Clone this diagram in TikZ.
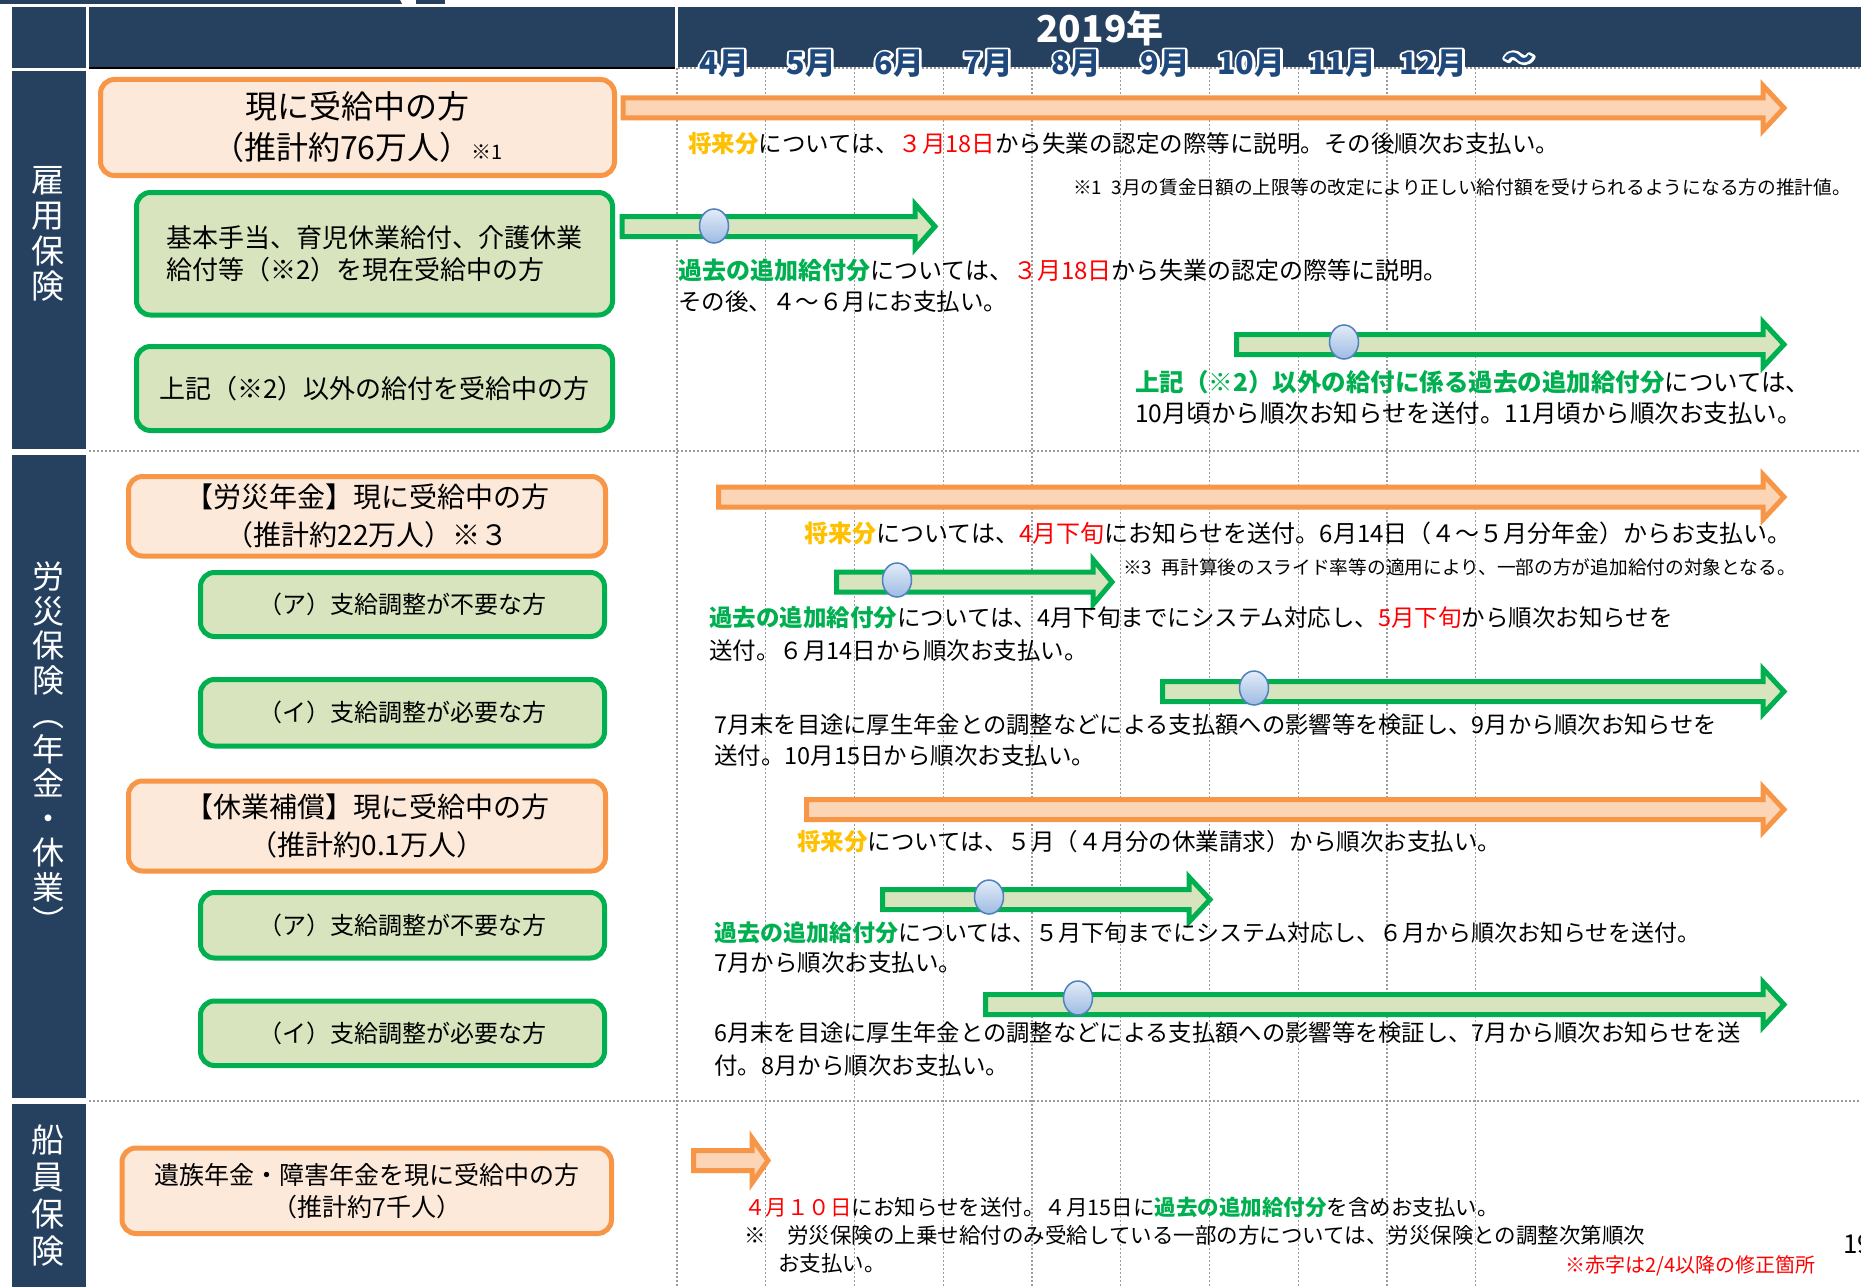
\documentclass[tikz,border=0pt]{standalone}
\usepackage{fontspec}
\setmainfont{Noto Sans CJK JP}
\usetikzlibrary{shapes.geometric}
\definecolor{navy}{HTML}{264060}
\definecolor{orline}{HTML}{F79646}
\definecolor{orfill}{HTML}{FDE9D9}
\definecolor{orarrow}{HTML}{FBD5B6}
\definecolor{grline}{HTML}{00B050}
\definecolor{grfill}{HTML}{D7E4BD}
\definecolor{goldtxt}{HTML}{FFC000}
\definecolor{redtxt}{HTML}{FF0000}
\definecolor{monthblue}{HTML}{1F497D}
\definecolor{gridgray}{HTML}{9A9A9A}
\definecolor{circline}{HTML}{4F81BD}
\definecolor{circtop}{HTML}{E3ECF8}
\definecolor{circbot}{HTML}{9DBBE3}
\newcommand{\fsz}[1]{\fontsize{#1pt}{#1pt}\selectfont}
\newcommand{\txgd}[1]{{\bfseries\color{goldtxt}#1}}
\newcommand{\txgr}[1]{{\bfseries\color{grline}#1}}
\newcommand{\txrd}[1]{{\color{redtxt}#1}}
\newcommand{\halo}[1]{\special{pdf:literal direct 1 Tr 1 1 1 RG 5 w 1 j}\rlap{#1}\special{pdf:literal direct 0 Tr}#1}
\newcommand{\blkarrow}[5]{%
  \draw[#1] (#2,#5-10) -- (#3,#5-10) -- (#3,#5-22.5) -- (#4,#5) -- (#3,#5+22.5) -- (#3,#5+10) -- (#2,#5+10) -- cycle;}
\begin{document}
\begin{tikzpicture}[x=1pt,y=-1pt,
  navycell/.style={fill=navy},
  gridline/.style={draw=gridgray,line width=1.3,dash pattern=on 2pt off 2pt},
  obox/.style={draw=orline,fill=orfill,line width=5,rounded corners=14,inner sep=0,align=center},
  gbox/.style={draw=grline,fill=grfill,line width=5,rounded corners=14,inner sep=0,align=center},
  oarrow/.style={draw=orline,fill=orarrow,line width=5,line join=miter},
  garrow/.style={draw=grline,fill=grfill,line width=5,line join=miter},
  circ/.style={ellipse,minimum width=29,minimum height=34,inner sep=0,draw=circline,line width=1.5,top color=circtop,bottom color=circbot},
  month/.style={font=\fsz{30.5}\bfseries,text=monthblue,inner sep=0},
  vtext/.style={text=white,align=center,inner sep=0},
  tl/.style={anchor=west,inner sep=0,font=\fsz{23.5}},
  note/.style={anchor=west,inner sep=0,font=\fsz{19}}]
\useasboundingbox (0,0) rectangle (1861,1287);
\clip (0,0) rectangle (1861,1287);
\fill[white] (0,0) rectangle (1861,1287);
% top tab
\fill[navy] (0,0) -- (400,0) -- (402,4) -- (0,4) -- cycle;
\fill[navy] (416,0) rectangle (445,4);
% header
\fill[navycell] (12,7) rectangle (86,68);
\fill[navycell] (89,7) rectangle (675,67);
\draw[black,line width=2] (89,68) -- (675,68);
\fill[navycell] (678,7) rectangle (1861,67);
\draw[gridline] (678,68) -- (1861,68);
% grid
\foreach \k in {0,...,9}{\draw[gridline] (677+88.75*\k,68) -- (677+88.75*\k,1287);}
\draw[gridline] (89,451) -- (1861,451);
\draw[gridline] (89,1101) -- (1861,1101);
% left column
\fill[navycell] (12,71) rectangle (86,449);
\fill[navycell] (12,455) rectangle (86,1098);
\fill[navycell] (12,1104) rectangle (86,1287);
\node[vtext,font=\fontsize{33pt}{35.5pt}\selectfont] (s1) at (48,234) {雇\\用\\保\\険};
\node[vtext,font=\fontsize{32pt}{34.5pt}\selectfont] (s2) at (48,748) {労\\災\\保\\険\\︵\\年\\金\\・\\休\\業\\︶};
\node[vtext,font=\fontsize{33pt}{37pt}\selectfont] (s3) at (48,1196) {船\\員\\保\\険};
% header texts
\node[text=white,font=\fsz{37}\bfseries,inner sep=0] (yr) at (1100,28) {2019年};
\node[month] (m4) at (724,64) {\halo{4月}};
\node[month] (m5) at (811,64) {\halo{5月}};
\node[month] (m6) at (899,64) {\halo{6月}};
\node[month] (m7) at (988,64) {\halo{7月}};
\node[month] (m8) at (1076,64) {\halo{8月}};
\node[month] (m9) at (1165,64) {\halo{9月}};
\node[month] (m10) at (1251,64) {\halo{10月}};
\node[month] (m11) at (1342,64) {\halo{11月}};
\node[month] (m12) at (1433,64) {\halo{12月}};
\node[month] (mt) at (1519,61) {\halo{～}};
% boxes
\node[obox,minimum width=514,minimum height=96,font=\fontsize{32pt}{41pt}\selectfont] (b1) at (357.5,127.5) {現に受給中の方\\（推計約76万人）{\fsz{20}※1}};
\node[gbox,minimum width=476,minimum height=122.5,align=left,font=\fontsize{26pt}{32pt}\selectfont] (b2) at (374.5,253.75) {基本手当、育児休業給付、介護休業\\給付等（※2）を現在受給中の方};
\node[gbox,minimum width=476,minimum height=84,font=\fsz{26}] (b3) at (374.5,388.5) {上記（※2）以外の給付を受給中の方};
\node[obox,minimum width=477,minimum height=79.5,font=\fontsize{28pt}{38pt}\selectfont] (b4) at (367,516.25) {【労災年金】現に受給中の方\\（推計約22万人）※３};
\node[gbox,minimum width=404,minimum height=64,font=\fsz{24}] (b5) at (402.5,604.5) {（ア）支給調整が不要な方};
\node[gbox,minimum width=404,minimum height=66.5,font=\fsz{24}] (b6) at (402.5,712.75) {（イ）支給調整が必要な方};
\node[obox,minimum width=477,minimum height=90,font=\fontsize{28pt}{38pt}\selectfont] (b7) at (367,826) {【休業補償】現に受給中の方\\（推計約0.1万人）};
\node[gbox,minimum width=404,minimum height=65.5,font=\fsz{24}] (b8) at (402.5,925.25) {（ア）支給調整が不要な方};
\node[gbox,minimum width=404,minimum height=64.5,font=\fsz{24}] (b9) at (402.5,1033.25) {（イ）支給調整が必要な方};
\node[obox,minimum width=489.5,minimum height=85.5,font=\fontsize{25pt}{32pt}\selectfont] (b10) at (366.75,1190.75) {遺族年金・障害年金を現に受給中の方\\（推計約7千人）};
% arrows
\blkarrow{oarrow}{623}{1763}{1784}{108}
\blkarrow{garrow}{622}{915}{935}{226.5}
\blkarrow{garrow}{1236.5}{1763}{1784}{344.5}
\blkarrow{oarrow}{718.5}{1763}{1784}{497}
\blkarrow{garrow}{836.5}{1093}{1112}{582}
\blkarrow{garrow}{1162.5}{1763}{1784}{691.5}
\blkarrow{oarrow}{806.5}{1763}{1784}{809.5}
\blkarrow{garrow}{882.5}{1189}{1210}{899.5}
\blkarrow{garrow}{985.5}{1763}{1784}{1004.5}
\blkarrow{oarrow}{693.5}{752}{768}{1160.5}
% circles
\node[circ] (c2) at (714,226) {};
\node[circ] (c3) at (1344,342) {};
\node[circ] (c5) at (897,580) {};
\node[circ] (c6) at (1254,688) {};
\node[circ] (c8) at (989,897) {};
\node[circ] (c9) at (1078,998) {};
% timeline texts
\node[tl] (t1) at (688,144) {\txgd{将来分}については、\txrd{３月18日}から失業の認定の際等に説明。その後順次お支払い。};
\node[note,font=\fsz{18.7}] (t2) at (1073,187) {※1\hspace{0.5em}3月の賃金日額の上限等の改定により正しい給付額を受けられるようになる方の推計値。};
\node[tl,font=\fsz{24}] (t3a) at (678,270) {\txgr{過去の追加給付分}については、\txrd{３月18日}から失業の認定の際等に説明。};
\node[tl] (t3b) at (678,302) {その後、４～６月にお支払い。};
\node[tl,font=\fsz{24.5}] (t4a) at (1135,382) {\txgr{上記（※2）以外の給付に係る過去の追加給付分}については、};
\node[tl,font=\fsz{24.5}] (t4b) at (1135,413) {10月頃から順次お知らせを送付。11月頃から順次お支払い。};
\node[tl,font=\fsz{24}] (t5) at (804,533) {\txgd{将来分}については、\txrd{4月下旬}にお知らせを送付。6月14日（４～５月分年金）からお支払い。};
\node[note,font=\fsz{18.7}] (t6) at (1123,567) {※3\hspace{0.5em}再計算後のスライド率等の適用により、一部の方が追加給付の対象となる。};
\node[tl] (t7a) at (709,618) {\txgr{過去の追加給付分}については、4月下旬までにシステム対応し、\txrd{5月下旬}から順次お知らせを};
\node[tl] (t7b) at (709,651) {送付。６月14日から順次お支払い。};
\node[tl,font=\fsz{23.3}] (t8a) at (714,725) {7月末を目途に厚生年金との調整などによる支払額への影響等を検証し、9月から順次お知らせを};
\node[tl] (t8b) at (714,756) {送付。10月15日から順次お支払い。};
\node[tl] (t9) at (797,842) {\txgd{将来分}については、５月（４月分の休業請求）から順次お支払い。};
\node[tl,font=\fsz{23}] (t10a) at (714,933) {\txgr{過去の追加給付分}については、５月下旬までにシステム対応し、６月から順次お知らせを送付。};
\node[tl] (t10b) at (714,963) {7月から順次お支払い。};
\node[tl,font=\fsz{23.3}] (t11a) at (714,1033) {6月末を目途に厚生年金との調整などによる支払額への影響等を検証し、7月から順次お知らせを送};
\node[tl] (t11b) at (714,1066) {付。8月から順次お支払い。};
\node[tl,font=\fsz{21.5}] (t12) at (744,1207) {\txrd{４月１０日}にお知らせを送付。４月15日に\txgr{過去の追加給付分}を含めお支払い。};
\node[tl,font=\fsz{21.5}] (t13) at (744,1235) {※　労災保険の上乗せ給付のみ受給している一部の方については、労災保険との調整次第順次};
\node[tl,font=\fsz{21.5}] (t14) at (778,1263) {お支払い。};
\node[note,font=\fsz{20},text=redtxt] (t15) at (1565,1266) {※赤字は2/4以降の修正箇所};
\node[tl,font=\fsz{26}] (pg) at (1843,1244) {19};
\end{tikzpicture}
\end{document}
